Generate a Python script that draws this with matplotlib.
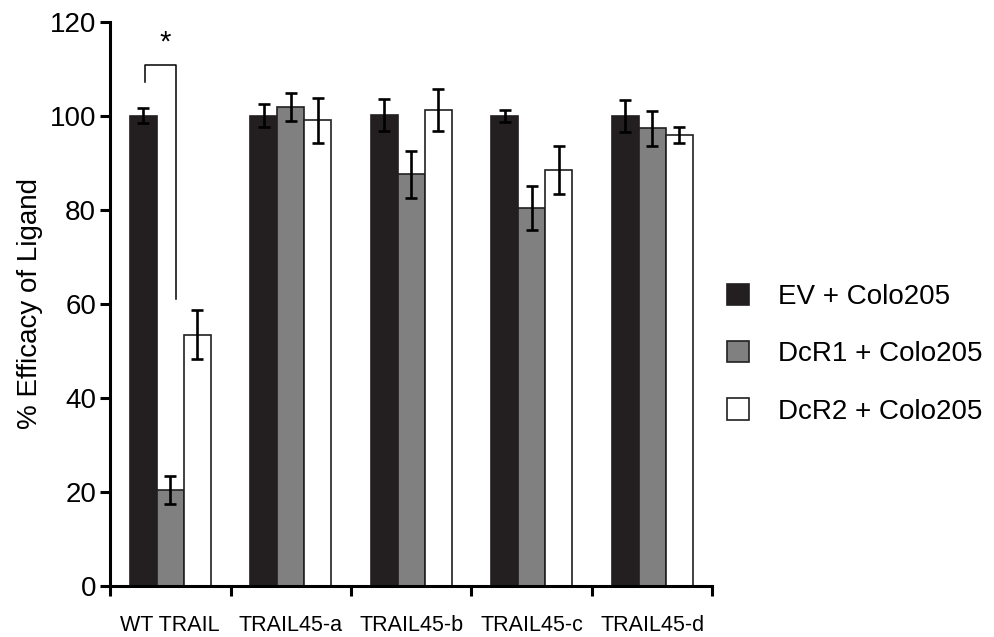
import numpy as np
import matplotlib.pyplot as plt

plt.rcParams['font.family'] = ['Liberation Sans', 'DejaVu Sans']

categories = ['WT TRAIL', 'TRAIL45-a', 'TRAIL45-b', 'TRAIL45-c', 'TRAIL45-d']
series = ['EV + Colo205', 'DcR1 + Colo205', 'DcR2 + Colo205']
ev_vals = [100, 100, 100.1, 100, 100]
ev_err = [1.6, 2.4, 3.4, 1.3, 3.4]
dcr1_vals = [20.4, 101.8, 87.6, 80.4, 97.3]
dcr1_err = [2.9, 3.0, 5.0, 4.6, 3.7]
dcr2_vals = [53.4, 99.0, 101.2, 88.5, 95.8]
dcr2_err = [5.2, 4.8, 4.4, 5.1, 1.7]

colors = ['#231f20', '#808080', '#ffffff']

fig = plt.figure(figsize=(9.94, 6.37), dpi=100)
ax = fig.add_axes([0.1107, 0.080, 0.606, 0.886])

x = np.arange(len(categories))
w = 0.225
for i, (vals, errs) in enumerate([(ev_vals, ev_err), (dcr1_vals, dcr1_err), (dcr2_vals, dcr2_err)]):
    ax.bar(x + (i - 1) * w, vals, w, color=colors[i], edgecolor='#231f20',
           linewidth=1.2, label=series[i], zorder=2)
    ax.errorbar(x + (i - 1) * w, vals, yerr=errs, fmt='none', ecolor='black',
                elinewidth=1.9, capsize=4.5, capthick=1.9, zorder=3)

# significance bracket between EV and DcR1 for WT TRAIL
ax.plot([-0.21, -0.21, 0.045, 0.045], [107.2, 110.8, 110.8, 61.1],
        color='black', lw=1.1, clip_on=False)
ax.text(-0.045, 115.5, '*', ha='center', va='center', fontsize=21)

ax.set_xlim(-0.5, 4.5)
ax.set_ylim(0, 120)
ax.set_yticks(np.arange(0, 121, 20))
ax.set_xticks(np.arange(-0.5, 4.6, 1))
ax.set_xticklabels([])
ax.set_xticks(x, minor=True)
ax.set_xticklabels(categories, minor=True, fontsize=15.5)
ax.tick_params(axis='x', which='minor', length=0, pad=21)
ax.tick_params(axis='x', which='major', length=7, width=2.2)
ax.tick_params(axis='y', length=7, width=2.2, labelsize=20, pad=3)
ax.set_ylabel('% Efficacy of Ligand', fontsize=20, labelpad=5)

for s in ['top', 'right']:
    ax.spines[s].set_visible(False)
for s in ['left', 'bottom']:
    ax.spines[s].set_linewidth(2.2)

fig.legend(*ax.get_legend_handles_labels(), loc='center left',
           bbox_to_anchor=(0.731, 0.444), frameon=False,
           fontsize=20, handlelength=0.8, handleheight=0.8,
           handletextpad=1.05, labelspacing=1.12, borderpad=0, borderaxespad=0)

fig.savefig('out.png', dpi=100)
